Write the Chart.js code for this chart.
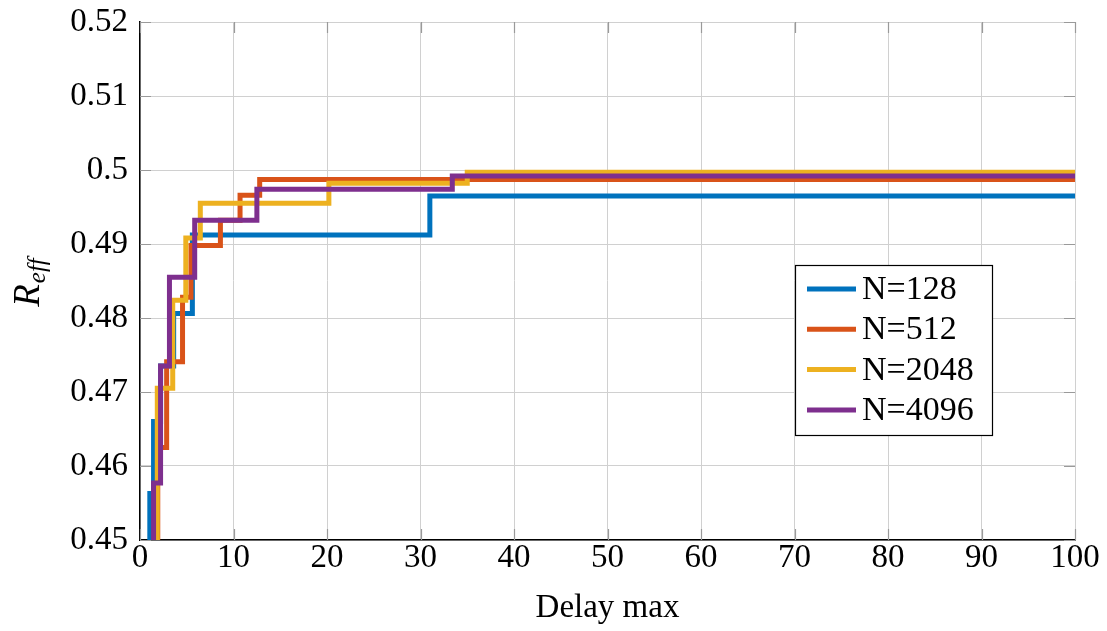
<!DOCTYPE html>
<html>
<head>
<meta charset="utf-8">
<script src="https://cdn.jsdelivr.net/npm/chart.js@4.4.1/dist/chart.umd.min.js"></script>
<style>
  html, body { margin: 0; padding: 0; background: #fff; }
  #wrap { width: 1107px; height: 631px; position: relative; }
</style>
</head>
<body>
<div id="wrap"><canvas id="reff-chart"></canvas></div>
<script>
// step data: delay where each level starts, and the R_eff level
const seriesLabels = ["N=128", "N=512", "N=2048", "N=4096"];
const seriesColors = ["#0072BD", "#D95319", "#EDB120", "#7E2F8E"];

const delay128 = [0, 1.05, 1.45, 2.2, 3.6, 5.6, 31.0, 100];
const reff128 = [0.44, 0.4563, 0.466, 0.4735, 0.4806, 0.4912, 0.4965, 0.4965];

const delay512 = [0, 1.9, 2.85, 4.55, 5.45, 8.6, 10.7, 12.8, 100];
const reff512 = [0.44, 0.4625, 0.4741, 0.4828, 0.4898, 0.4932, 0.4966, 0.4987, 0.4987];

const delay2048 = [0, 1.85, 3.5, 4.9, 6.45, 20.2, 35.0, 100];
const reff2048 = [0.44, 0.4705, 0.4824, 0.4908, 0.4955, 0.4982, 0.4997, 0.4997];

const delay4096 = [0, 1.45, 2.2, 3.15, 5.85, 12.5, 33.4, 100];
const reff4096 = [0.44, 0.4577, 0.4735, 0.4855, 0.4932, 0.4974, 0.4992, 0.4992];

const xTickValues = [0, 10, 20, 30, 40, 50, 60, 70, 80, 90, 100];
const xTickLabels = ["0", "10", "20", "30", "40", "50", "60", "70", "80", "90", "100"];
const yTickValues = [0.45, 0.46, 0.47, 0.48, 0.49, 0.5, 0.51, 0.52];
const yTickLabels = ["0.45", "0.46", "0.47", "0.48", "0.49", "0.5", "0.51", "0.52"];

const serif = '"Liberation Serif", "Times New Roman", serif';
const gridColor = "#d0d0d0";

const delays = [delay128, delay512, delay2048, delay4096];
const reffs = [reff128, reff512, reff2048, reff4096];

function toPoints(xs, ys) {
  return xs.map((x, i) => ({ x: x, y: ys[i] }));
}

const datasets = seriesLabels.map((label, i) => ({
  label: label,
  data: toPoints(delays[i], reffs[i]),
  borderColor: seriesColors[i],
  backgroundColor: seriesColors[i],
  borderWidth: 5,
  pointRadius: 0,
  stepped: "before",
  fill: false,
  clip: 0,
  order: seriesLabels.length - i // later series on top, like the matlab plot
}));

// rotated y title with a subscript, the built-in title can't do that
const reffTitle = {
  id: "reffTitle",
  afterDraw(chart) {
    const ctx = chart.ctx;
    const area = chart.chartArea;
    ctx.save();
    ctx.translate(27, (area.top + area.bottom) / 2 + 2);
    ctx.rotate(-Math.PI / 2);
    ctx.fillStyle = "#000";
    ctx.textBaseline = "alphabetic";
    ctx.textAlign = "left";
    ctx.font = "italic 37px " + serif;
    const wR = ctx.measureText("R").width;
    ctx.font = "italic 25px " + serif;
    const wSub = ctx.measureText("eff").width;
    const x0 = -(wR + wSub) / 2;
    ctx.font = "italic 37px " + serif;
    ctx.fillText("R", x0, 12);
    ctx.font = "italic 25px " + serif;
    ctx.fillText("eff", x0 + wR + 1, 18);
    ctx.restore();
  }
};

// short inward tick marks on the axes
const innerTicks = {
  id: "innerTicks",
  beforeDatasetsDraw(chart) {
    const ctx = chart.ctx;
    const area = chart.chartArea;
    const xs = chart.scales.x;
    const ys = chart.scales.y;
    ctx.save();
    ctx.strokeStyle = "#9a9a9a";
    ctx.lineWidth = 1.2;
    ctx.beginPath();
    yTickValues.forEach(v => {
      const py = Math.round(ys.getPixelForValue(v)) + 0.5;
      ctx.moveTo(area.left, py);
      ctx.lineTo(area.left + 11, py);
      ctx.moveTo(area.right, py);
      ctx.lineTo(area.right - 11, py);
    });
    xTickValues.forEach(v => {
      const px = Math.round(xs.getPixelForValue(v)) + 0.5;
      ctx.moveTo(px, area.bottom);
      ctx.lineTo(px, area.bottom - 11);
      ctx.moveTo(px, area.top);
      ctx.lineTo(px, area.top + 11);
    });
    ctx.stroke();
    ctx.restore();
  }
};

// boxed legend sitting inside the plot, right of centre
const boxLegend = {
  id: "boxLegend",
  afterDraw(chart) {
    const ctx = chart.ctx;
    const left = 795, top = 265, w = 197, h = 170;
    ctx.save();
    ctx.fillStyle = "#fff";
    ctx.fillRect(left, top, w, h);
    ctx.strokeStyle = "#000";
    ctx.lineWidth = 1.2;
    ctx.strokeRect(left + 0.5, top + 0.5, w, h);
    ctx.font = "34px " + serif;
    ctx.textBaseline = "middle";
    ctx.textAlign = "left";
    chart.data.datasets.forEach((ds, i) => {
      const y = top + 24 + i * 40.3;
      ctx.strokeStyle = ds.borderColor;
      ctx.lineWidth = 5;
      ctx.beginPath();
      ctx.moveTo(left + 12, y);
      ctx.lineTo(left + 61, y);
      ctx.stroke();
      ctx.fillStyle = "#000";
      ctx.fillText(ds.label, left + 67, y + 1);
    });
    ctx.restore();
  }
};

new Chart(document.getElementById("reff-chart"), {
  type: "line",
  data: { datasets: datasets },
  options: {
    responsive: true,
    maintainAspectRatio: false,
    animation: false,
    devicePixelRatio: 1,
    layout: { padding: { top: 22, right: 32, left: 0, bottom: 0 } },
    plugins: {
      legend: { display: false },
      tooltip: { enabled: false }
    },
    scales: {
      x: {
        type: "linear",
        min: 0,
        max: 100,
        afterBuildTicks: s => { s.ticks = xTickValues.map(v => ({ value: v })); },
        afterFit: s => { s.height = 91; },
        ticks: {
          callback: v => xTickLabels[xTickValues.indexOf(v)],
          font: { family: serif, size: 33, lineHeight: 1 },
          color: "#000",
          padding: 2,
          maxRotation: 0,
          autoSkip: false
        },
        grid: { color: gridColor, lineWidth: 1, drawTicks: false },
        border: { color: "#000", width: 1.5 },
        title: {
          display: true,
          text: "Delay max",
          color: "#000",
          font: { family: serif, size: 33 },
          padding: { top: 0, bottom: 3 }
        }
      },
      y: {
        min: 0.45,
        max: 0.52,
        afterBuildTicks: s => { s.ticks = yTickValues.map(v => ({ value: v })); },
        afterFit: s => {
          s.width = 140;
          // don't let the top label push the plot down
          s.paddingTop = 16;
          s.paddingBottom = 0;
        },
        ticks: {
          callback: v => yTickLabels[yTickValues.findIndex(t => Math.abs(t - v) < 1e-9)],
          font: { family: serif, size: 33, lineHeight: 1 },
          color: "#000",
          padding: 12,
          autoSkip: false
        },
        grid: { color: gridColor, lineWidth: 1, drawTicks: false },
        border: { color: "#000", width: 1.5 }
      }
    }
  },
  plugins: [innerTicks, reffTitle, boxLegend]
});
</script>
</body>
</html>
